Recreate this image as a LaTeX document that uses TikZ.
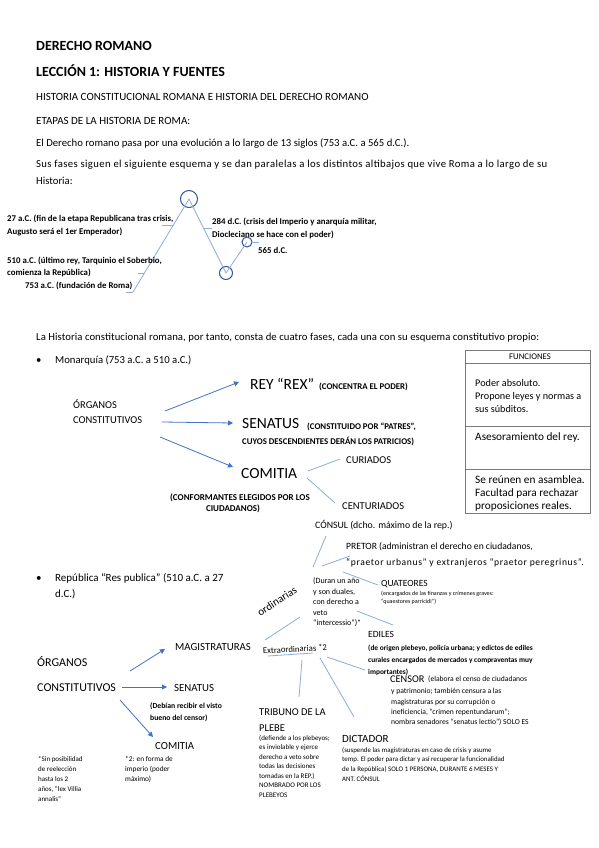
\documentclass[tikz,border=0pt]{standalone}
\usepackage{fontspec}
\setmainfont{Carlito}
\usetikzlibrary{arrows.meta}
\definecolor{lb}{RGB}{143,170,220}
\definecolor{mb}{RGB}{68,114,196}
\definecolor{db}{RGB}{47,85,151}
\definecolor{tgray}{RGB}{120,120,120}
\newcommand{\fz}[2]{\fontsize{#1}{#2}\selectfont}
\begin{document}
\begin{tikzpicture}[x=1pt,y=-1pt,
  t/.style={anchor=base west, inner sep=0pt},
  ml/.style={anchor=north west, inner sep=0pt, align=left},
  conn/.style={lb, line width=0.8pt},
  arr/.style={mb, line width=0.8pt, -{Triangle[length=5pt,width=5pt]}},
  ring/.style={circle, draw=db, line width=1pt, inner sep=0pt},
  big/.style={font=\fz{15.5}{18}},
  tl/.style={t, font=\bfseries\fz{8.8}{10}},
  sb/.style={t, font=\bfseries\fz{8.8}{10}},
]
\useasboundingbox (0,0) rectangle (599,848);
\fill[white] (0,0) rectangle (599,848);

% ---------- header ----------
\node[t, font=\bfseries\fz{14}{17}] (h1) at (36,51) {DERECHO ROMANO};
\node[t, font=\bfseries\fz{14}{17}] (h2) at (36,77) {LECCIÓN 1: HISTORIA Y FUENTES};
\node[t, font=\fz{11}{13}] (h3) at (36,100.5) {HISTORIA CONSTITUCIONAL ROMANA E HISTORIA DEL DERECHO ROMANO};
\node[t, font=\fz{11}{13}] (h4) at (36,124.5) {ETAPAS DE LA HISTORIA DE ROMA:};
\node[t, font=\fz{10.7}{13}] (p1) at (36,146.5) {El Derecho romano pasa por una evolución a lo largo de 13 siglos (753 a.C. a 565 d.C.).};
\node[t, font=\fz{10.7}{13}\addfontfeature{LetterSpace=3.5}] (p2a) at (36,167.5) {Sus fases siguen el siguiente esquema y se dan paralelas a los distintos altibajos que vive Roma a lo largo de su};
\node[t, font=\fz{10.7}{13}] (p2b) at (36,184.5) {Historia:};

% ---------- timeline ----------
\node[ring, minimum size=17pt] (cP) at (189,199) {};
\node[ring, minimum size=13pt] (cV) at (226,273) {};
\node[ring, minimum size=10pt] (cE) at (247,242) {};
\coordinate (tA) at (133,292);
\draw[conn] (tA) -- (cP.center) -- (cV.center) -- (cE.center);
\draw[conn] (cE.east) -- ++(6,0);
\draw[conn] (162,225) -- (173,225);
\draw[conn] (138,273) -- (144,273);
\draw[conn] (126,292) -- (tA);
\draw[conn] (203,228) -- (212,228);

\node[tl] (l27a) at (7,221) {27 a.C. (fin de la etapa Republicana tras crisis,};
\node[tl] (l27b) at (7,234) {Augusto será el 1er Emperador)};
\node[tl] (l510a) at (7,263) {510 a.C. (último rey, Tarquinio el Soberbio,};
\node[tl] (l510b) at (7,275) {comienza la República)};
\node[tl] (l753) at (25,288.5) {753 a.C. (fundación de Roma)};
\node[tl] (l284a) at (212,224) {284 d.C. (crisis del Imperio y anarquía militar,};
\node[tl] (l284b) at (212,237) {Diocleciano se hace con el poder)};
\node[tl] (l565) at (258,253) {565 d.C.};

% ---------- fases ----------
\node[t, font=\fz{10.7}{13}\addfontfeature{LetterSpace=0.7}] (p3) at (36,340.5) {La Historia constitucional romana, por tanto, consta de cuatro fases, cada una con su esquema constitutivo propio:};
\node[t, font=\fz{10.7}{13}] (b1) at (36,363.5) {\textbullet};
\node[t, font=\fz{10.7}{13}] (mon) at (55,363.5) {Monarquía (753 a.C. a 510 a.C.)};

% ---------- table ----------
\draw[tgray, line width=0.8pt] (465,350) rectangle (590,513);
\draw[tgray, line width=0.8pt] (465,363) -- (590,363);
\draw[tgray, line width=0.8pt] (465,426) -- (590,426);
\draw[tgray, line width=0.8pt] (465,469) -- (590,469);
\node[anchor=base, inner sep=0pt, font=\fz{8.7}{10}] (fun) at (530,359.5) {FUNCIONES};
\node[ml, font=\fz{10.2}{13}] (f1) at (475,379) {Poder absoluto.\\Propone leyes y normas a\\sus súbditos.};
\node[t, font=\fz{11.3}{13}] (f2) at (475,440.5) {Asesoramiento del rey.};
\node[ml, font=\fz{11.3}{13}] (f3) at (475,475) {Se reúnen en asamblea.\\Facultad para rechazar\\proposiciones reales.};

% ---------- monarquia diagram ----------
\node[t, font=\fz{10.5}{12}] (org1) at (73,408.5) {ÓRGANOS};
\node[t, font=\fz{10.5}{12}] (con1) at (73,423.5) {CONSTITUTIVOS};
\node[t, big] (rey) at (250,389) {REY “REX”};
\node[sb] (reyd) at (319,389) {(CONCENTRA EL PODER)};
\node[t, big] (sen1) at (242,428) {SENATUS};
\node[sb] (sen1a) at (307,429) {(CONSTITUIDO POR “PATRES”,};
\node[sb] (sen1b) at (242,444) {CUYOS DESCENDIENTES DERÁN LOS PATRICIOS)};
\node[t, big] (com1) at (241,478) {COMITIA};
\node[t, font=\fz{10.5}{12}] (cur) at (346,463.5) {CURIADOS};
\node[t, font=\fz{10.5}{12}] (cent) at (342,509.5) {CENTURIADOS};
\node[anchor=base, inner sep=0pt, font=\bfseries\fz{9}{10}] (conf1) at (240,500) {(CONFORMANTES ELEGIDOS POR LOS};
\node[anchor=base, inner sep=0pt, font=\bfseries\fz{9}{10}] (conf2) at (233,511) {CIUDADANOS)};

\coordinate (m1s) at (165,411); \coordinate (m1e) at (239,382);
\coordinate (m2s) at (162,422); \coordinate (m2e) at (233,423);
\coordinate (m3s) at (160,437); \coordinate (m3e) at (233,467);
\draw[arr] (m1s) -- (m1e);
\draw[arr] (m2s) -- (m2e);
\draw[arr] (m3s) -- (m3e);
\coordinate (c1s) at (308,471); \coordinate (c1e) at (340,459);
\coordinate (c2s) at (307,478); \coordinate (c2e) at (335,503);
\draw[conn] (c1s) -- (c1e);
\draw[conn] (c2s) -- (c2e);

% ---------- republica ----------
\node[t, font=\fz{11}{13}] (b2) at (36,581.5) {\textbullet};
\node[t, font=\fz{11}{13}] (rep1) at (55,581.5) {República “Res publica” (510 a.C. a 27};
\node[t, font=\fz{11}{13}] (rep2) at (55,597.5) {d.C.)};
\node[t, font=\fz{12}{14}] (org2) at (37,666) {ÓRGANOS};
\node[t, font=\fz{12}{14}] (con2) at (37,691) {CONSTITUTIVOS};
\node[t, font=\fz{10.8}{12}] (mag) at (175,650.5) {MAGISTRATURAS};
\node[t, font=\fz{10.8}{12}] (sen2) at (174,691.5) {SENATUS};
\node[t, font=\fz{10.8}{12}] (com2) at (155,749.5) {COMITIA};
\node[ml, font=\bfseries\fz{7.7}{12}] (deb) at (150,702.5) {(Debían recibir el visto\\bueno del censor)};

\coordinate (r1s) at (130,671); \coordinate (r1e) at (165,649);
\coordinate (r2s) at (122,687); \coordinate (r2e) at (167,687);
\coordinate (r3s) at (120,700); \coordinate (r3e) at (153,737);
\draw[arr] (r1s) -- (r1e);
\draw[arr] (r2s) -- (r2e);
\draw[arr] (r3s) -- (r3e);

\node[inner sep=0pt, rotate=33, font=\fz{11}{13}] (ord) at (277,601) {ordinarias};
\node[inner sep=0pt, rotate=3, font=\fz{8.7}{10}] (ext) at (295,649) {Extraordinarias *2};
\coordinate (o0s) at (265,640); \coordinate (o0e) at (300,617);
\draw[conn] (o0s) -- (o0e);
\coordinate (u1) at (268,656); \coordinate (u2) at (313,653);
\draw[conn] (u1) -- (u2);

\node[ml, font=\fz{8}{10.5}] (dur) at (313,577.5) {(Duran un año\\y son duales,\\con derecho a\\veto\\“intercessio”)*};

\node[t, font=\fz{9.8}{11}] (cons) at (315,528.5) {CÓNSUL (dcho. máximo de la rep.)};
\node[t, font=\fz{9.6}{11}] (pre1) at (346,549.5) {PRETOR (administran el derecho en ciudadanos,};
\node[t, font=\fz{9.6}{11}\addfontfeature{LetterSpace=6.5}] (pre2) at (346,565.5) {“praetor urbanus” y extranjeros “praetor peregrinus”.};
\node[t, font=\fz{9.5}{11}] (qua) at (381,586.5) {QUATEORES};
\node[ml, font=\fz{6}{8}] (quad) at (381,591) {(encargados de las finanzas y crímenes graves:\\“quaestores parricidi”)};
\node[t, font=\fz{9.5}{11}] (edi) at (368,637.5) {EDILES};
\node[ml, font=\bfseries\fz{7.4}{12}] (edid) at (368,645) {(de origen plebeyo, policía urbana; y edictos de ediles\\curales encargados de mercados y compraventas muy\\importantes)};
\node[t, font=\fz{10.3}{12}] (cen) at (390,682) {CENSOR};
\node[t, font=\fz{7.6}{10}] (cena) at (428,681) {(elabora el censo de ciudadanos};
\node[ml, font=\fz{7.6}{10.3}] (cenb) at (391,688.5) {y patrimonio; también censura a las\\magistraturas por su corrupción o\\ineficiencia, “crimen repentundarum”;\\nombra senadores “senatus lectio”) SOLO ES};

\node[t, font=\fz{10.5}{12}] (tri1) at (259,715.5) {TRIBUNO DE LA};
\node[t, font=\fz{10.5}{12}] (tri2) at (259,731.5) {PLEBE};
\node[ml, font=\fz{7}{9.5}] (trid) at (259,735) {(defiende a los plebeyos;\\es inviolable y ejerce\\derecho a veto sobre\\todas las decisiones\\tomadas en la REP.)\\NOMBRADO POR LOS\\PLEBEYOS};
\node[t, font=\fz{11}{12}] (dic) at (342,742) {DICTADOR};
\node[ml, font=\fz{6.9}{9.6}] (dicd) at (342,747) {(suspende las magistraturas en caso de crisis y asume\\temp. El poder para dictar y así recuperar la funcionalidad\\de la República) SOLO 1 PERSONA, DURANTE 6 MESES Y\\ANT. CÓNSUL};

\node[ml, font=\fz{7}{10}] (fn1) at (38,756.5) {*Sin posibilidad\\de reelección\\hasta los 2\\años, “lex Villia\\annalis”};
\node[ml, font=\fz{7.3}{10}] (fn2) at (125,756.5) {*2: en forma de\\imperio (poder\\máximo)};

% connectors from ordinarias block
\coordinate (k1s) at (313,567); \coordinate (k1e) at (326,536);
\coordinate (k2s) at (322,566); \coordinate (k2e) at (350,556);
\coordinate (k3s) at (343,572); \coordinate (k3e) at (378,585);
\coordinate (k4s) at (357,611); \coordinate (k4e) at (393,625);
\draw[conn] (k1s) -- (k1e);
\draw[conn] (k2s) -- (k2e);
\draw[conn] (k3s) -- (k3e);
\draw[conn] (k4s) -- (k4e);
% connectors from extraordinarias
\coordinate (e1s) at (302,660); \coordinate (e1e) at (299,697);
\coordinate (e2s) at (320,658); \coordinate (e2e) at (354,717);
\coordinate (e3s) at (327,657); \coordinate (e3e) at (365,670);
\draw[conn] (e1s) -- (e1e);
\draw[conn] (e2s) -- (e2e);
\draw[conn] (e3s) -- (e3e);
\end{tikzpicture}
\end{document}
